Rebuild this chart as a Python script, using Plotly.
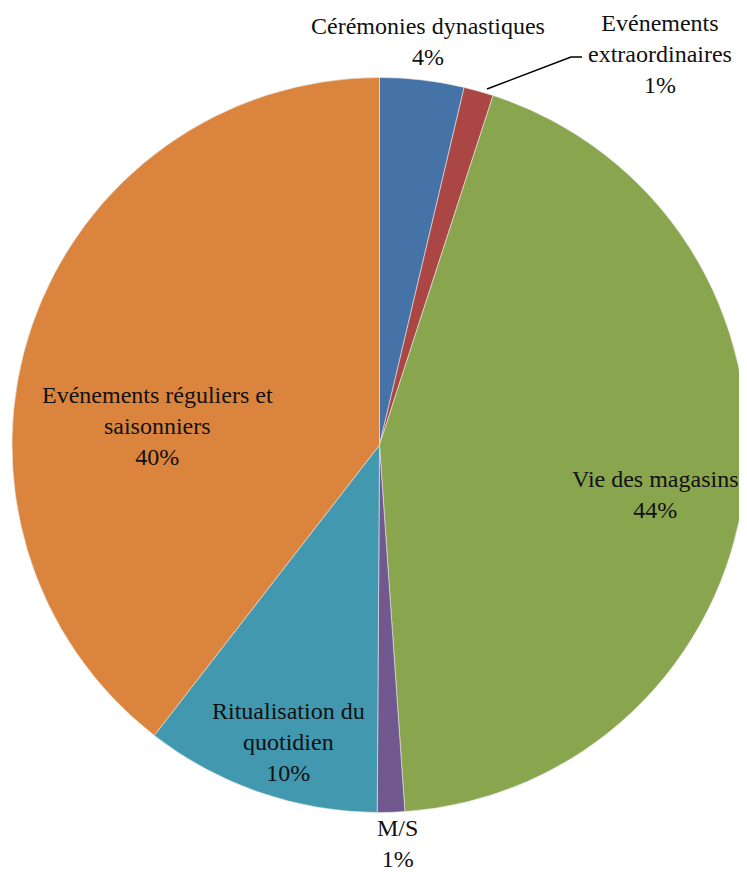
import plotly.graph_objects as go

labels = ["Cérémonies dynastiques", "Evénements extraordinaires", "Vie des magasins",
          "M/S", "Ritualisation du quotidien", "Evénements réguliers et saisonniers"]
values = [3.7, 1.3, 43.9, 1.2, 10.4, 39.5]
colors = ["#4572A7", "#AA4643", "#89A54E", "#71588F", "#4298AF", "#DB843D"]
label_text = ["Cérémonies dynastiques<br>4%", "Evénements<br>extraordinaires<br>1%",
              "Vie des magasins<br>44%", "M/S<br>1%", "Ritualisation du<br>quotidien<br>10%",
              "Evénements réguliers et<br>saisonniers<br>40%"]
# label centres in page pixels (text placement only)
label_px = [(428, 42), (660, 54), (655, 495), (397, 843), (288, 742), (157, 426)]

OFF = 8  # page body margin
W, H = 739, 863
L, R, T, B = 4, 0, 65, 54
FONT = "Liberation Serif"


def px2paper(x, y):
    return ((x - OFF - L) / (W - L - R), (H - B - (y - OFF)) / (H - T - B))


fig = go.Figure(go.Pie(
    labels=labels, values=values, sort=False, direction="clockwise", rotation=0,
    marker=dict(colors=colors, line=dict(color="#E8E8E8", width=0.6)),
    textinfo="none", hoverinfo="label+percent", showlegend=False,
))

for txt, (x, y) in zip(label_text, label_px):
    px, py = px2paper(x, y)
    fig.add_annotation(x=px, y=py, xref="paper", yref="paper",
                       text=txt, showarrow=False, xanchor="center", yanchor="middle",
                       font=dict(family=FONT, size=24, color="#111111"))

pts = [px2paper(*p) for p in [(487, 89), (571, 57), (582, 57)]]
fig.add_shape(type="path", xref="paper", yref="paper",
              path="M {} L {} L {}".format(*[f"{a},{b}" for a, b in pts]),
              line=dict(color="black", width=1.5))

fig.update_layout(width=W, height=H, margin=dict(l=L, r=R, t=T, b=B),
                  paper_bgcolor="white", plot_bgcolor="white")
fig.write_html("out.html")
